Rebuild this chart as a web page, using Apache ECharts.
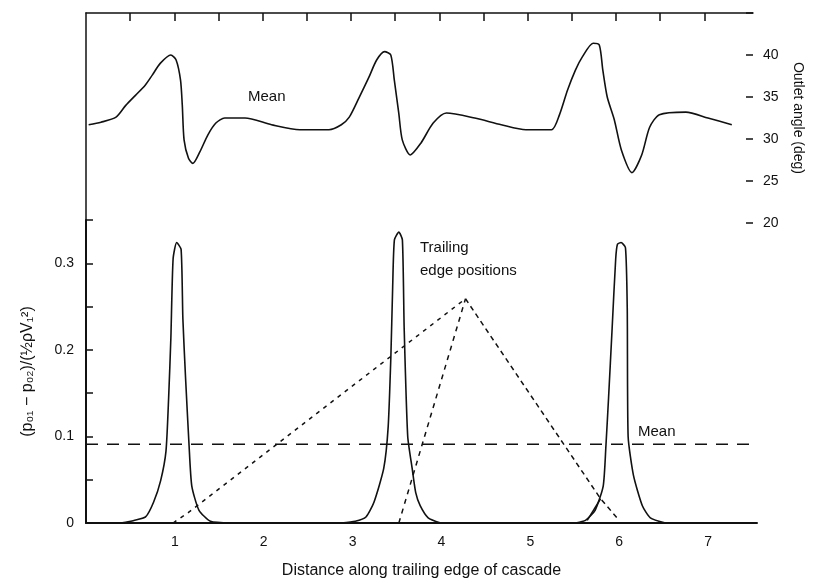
<!DOCTYPE html>
<html><head><meta charset="utf-8">
<script src="https://cdn.jsdelivr.net/npm/echarts@6/dist/echarts.min.js"></script>
<style>html,body{margin:0;padding:0;background:#fff}#c{width:813px;height:584px}</style>
</head><body><div id="c"></div>
<script>
// Top panel: outlet angle along trailing edge (Mean)
const angleMean = [[0.03,31.7],[0.17,32.0],[0.34,32.6],[0.45,34.0],[0.56,35.2],[0.67,36.4],[0.75,37.6],[0.84,39.0],[0.96,40.0],[1.02,39.4],[1.07,37.0],[1.09,34.0],[1.11,29.9],[1.16,27.7],[1.21,27.1],[1.29,28.5],[1.38,30.5],[1.47,31.9],[1.57,32.5],[1.80,32.5],[2.10,31.7],[2.42,31.1],[2.75,31.1],[2.89,31.7],[2.98,32.6],[3.09,34.9],[3.20,37.3],[3.29,39.4],[3.38,40.4],[3.45,40.0],[3.49,37.0],[3.54,33.1],[3.58,29.9],[3.67,28.1],[3.79,29.5],[3.93,31.9],[4.08,33.1],[4.40,32.5],[4.70,31.7],[4.98,31.1],[5.27,31.1],[5.36,32.9],[5.45,35.8],[5.54,38.2],[5.62,39.8],[5.74,41.4],[5.81,41.2],[5.85,38.2],[5.90,35.0],[5.98,32.3],[6.06,28.7],[6.18,26.0],[6.29,28.1],[6.38,31.4],[6.49,32.9],[6.79,33.2],[7.04,32.5],[7.31,31.7]];
// Bottom panel: loss coefficient peaks at the three trailing edges
const lossPeak1 = [[0.39,0],[0.54,0.003],[0.67,0.007],[0.76,0.024],[0.84,0.049],[0.90,0.083],[0.93,0.145],[0.955,0.214],[0.98,0.305],[1.02,0.324],[1.07,0.316],[1.09,0.236],[1.12,0.168],[1.16,0.089],[1.19,0.043],[1.27,0.015],[1.40,0.002],[1.63,0]];
const lossPeak2 = [[2.87,0],[3.03,0.002],[3.15,0.007],[3.24,0.024],[3.35,0.063],[3.40,0.111],[3.43,0.191],[3.45,0.27],[3.47,0.327],[3.52,0.336],[3.56,0.327],[3.58,0.225],[3.62,0.10],[3.67,0.063],[3.71,0.035],[3.76,0.02],[3.85,0.006],[3.99,0]];
const lossPeak3 = [[5.51,0],[5.62,0.003],[5.73,0.015],[5.82,0.043],[5.85,0.089],[5.88,0.145],[5.92,0.225],[5.96,0.305],[5.98,0.322],[6.02,0.324],[6.07,0.318],[6.09,0.248],[6.10,0.10],[6.16,0.055],[6.26,0.02],[6.35,0.006],[6.52,0]];
// Lines converging from trailing-edge positions
const edgeLineA = [[0.98,0.0],[1.15,0.012],[4.27,0.259]];
const edgeLineB = [[3.52,0.0],[4.27,0.259]];
const edgeLineC = [[4.27,0.259],[5.79,0.028],[6.0,0.003]];
const edgeLineD = [[5.64,0.003],[5.79,0.028]];
const lossMeanValue = 0.091;
const lossMean = [[0,lossMeanValue],[7.55,lossMeanValue]];
const xTicksBottom = [1,2,3,4,5,6,7];
const xTicksTop = [0.5,1,1.5,2,2.5,3,3.5,4,4.5,5,5.5,6,6.5,7];
const angleTicks = [20,25,30,35,40];
const lossTicks = [0,0.1,0.2,0.3];

const FONT = 'Liberation Sans';
const black = '#111';
const chart = echarts.init(document.getElementById('c'), null, {renderer:'canvas'});
function line(data, xi, yi, opts){
  return Object.assign({type:'line', data, xAxisIndex:xi, yAxisIndex:yi, showSymbol:false, symbol:'none',
    lineStyle:{color:black, width:1.6}, animation:false, z:3}, opts||{});
}
chart.setOption({
  backgroundColor:'#fff',
  animation:false,
  textStyle:{fontFamily:FONT, color:black},
  grid:[
    {left:86, right:56, top:13, height:210},
    {left:86, right:56, top:220, height:308}
  ],
  xAxis:[
    {gridIndex:0, type:'value', position:'top', min:0, max:7.55, interval:0.5,
     axisLine:{show:true, onZero:false, lineStyle:{color:black, width:1.5}},
     axisTick:{show:true, inside:true, length:8, customValues:xTicksTop, lineStyle:{color:black, width:1.5}},
     axisLabel:{show:false}, splitLine:{show:false}},
    {gridIndex:1, type:'value', position:'bottom', min:0, max:7.55, interval:1,
     axisLine:{show:true, onZero:false, lineStyle:{color:black, width:2}},
     axisTick:{show:false},
     axisLabel:{color:black, fontSize:14, fontFamily:FONT, margin:12,
       formatter:v=> xTicksBottom.indexOf(Math.round(v*100)/100) >= 0 ? String(v) : ''},
     splitLine:{show:false},
     name:'Distance along trailing edge of cascade', nameLocation:'middle', nameGap:40,
     nameTextStyle:{color:black, fontSize:16, fontFamily:FONT}}
  ],
  yAxis:[
    {gridIndex:0, type:'value', position:'right', min:20, max:45, interval:5,
     axisLine:{show:false, onZero:false}, axisTick:{show:true, inside:true, length:7, lineStyle:{color:black, width:1.5}},
     axisLabel:{color:black, fontSize:14, fontFamily:FONT, margin:10,
       formatter:v=> angleTicks.indexOf(Math.round(v)) >= 0 ? String(v) : ''},
     splitLine:{show:false},
     name:'Outlet angle (deg)', nameLocation:'middle', nameGap:38, nameRotate:-90,
     nameTextStyle:{color:black, fontSize:14, fontFamily:FONT}},
    {gridIndex:0, type:'value', position:'left', min:20, max:45,
     axisLine:{show:true, onZero:false, lineStyle:{color:black, width:1.5}}, axisTick:{show:false},
     axisLabel:{show:false}, splitLine:{show:false}},
    {gridIndex:1, type:'value', position:'left', min:0, max:0.35, interval:0.05,
     axisLine:{show:true, onZero:false, lineStyle:{color:black, width:2}},
     axisTick:{show:true, inside:true, length:7, lineStyle:{color:black, width:1.5}},
     axisLabel:{color:black, fontSize:14, fontFamily:FONT, margin:12,
       formatter:v=>{const r=Math.round(v*100)/100; return lossTicks.indexOf(r)>=0 ? String(r) : '';}},
     splitLine:{show:false},
     name:'(p₀₁ − p₀₂)/(½ρV₁²)', nameLocation:'middle', nameGap:50, nameRotate:90,
     nameTextStyle:{color:black, fontSize:16, fontFamily:FONT}}
  ],
  series:[
    line(angleMean, 0, 0, {smooth:0.25}),
    line(lossPeak1, 1, 2, {smooth:0.2}),
    line(lossPeak2, 1, 2, {smooth:0.2}),
    line(lossPeak3, 1, 2, {smooth:0.2}),
    line(edgeLineA, 1, 2, {lineStyle:{color:black, width:1.5, type:[4,5]}}),
    line(edgeLineB, 1, 2, {lineStyle:{color:black, width:1.5, type:[5,5]}}),
    line(edgeLineC, 1, 2, {lineStyle:{color:black, width:1.5, type:[5,4]}}),
    line(edgeLineD, 1, 2, {lineStyle:{color:black, width:1.5}}),
    line(lossMean, 1, 2, {lineStyle:{color:black, width:1.6, type:[12,9]}})
  ],
  graphic:[
    {type:'text', left:248, top:89, style:{text:'Mean', fill:black, font:'15px '+FONT}},
    {type:'text', left:420, top:236, style:{text:'Trailing\nedge positions', fill:black, font:'15px '+FONT, lineHeight:23}},
    {type:'text', left:638, top:424, style:{text:'Mean', fill:black, font:'15px '+FONT}}
  ]
});
</script></body></html>
